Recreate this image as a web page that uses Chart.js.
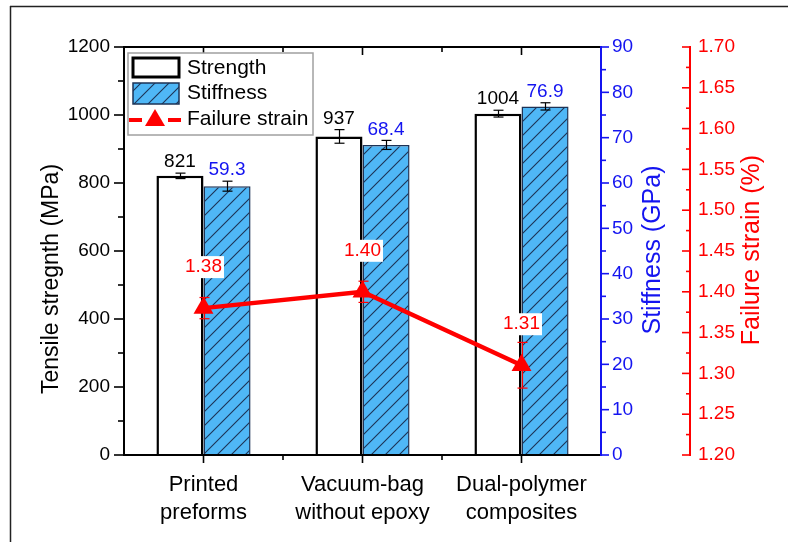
<!DOCTYPE html>
<html>
<head>
<meta charset="utf-8">
<script src="https://cdn.jsdelivr.net/npm/chart.js@4/dist/chart.umd.min.js"></script>
<style>
  html, body { margin: 0; padding: 0; background: #fff; }
  canvas { display: block; }
</style>
</head>
<body>
<canvas id="chart" width="788" height="542"></canvas>
<script>
// ---- data ----
const categories = [['Printed', 'preforms'], ['Vacuum-bag', 'without epoxy'], ['Dual-polymer', 'composites']];
const strength = [821, 937, 1004];            // MPa
const strengthErr = [8, 20, 10];
const stiffness = [59.3, 68.4, 76.9];         // GPa
const stiffnessErr = [1.1, 1.0, 0.8];
const failureStrain = [1.38, 1.40, 1.31];     // %
const failureStrainErr = [0.013, 0.013, 0.028];
const strengthTicks = [0, 200, 400, 600, 800, 1000, 1200];
const stiffnessTicks = [0, 10, 20, 30, 40, 50, 60, 70, 80, 90];
const strainTicks = [1.20, 1.25, 1.30, 1.35, 1.40, 1.45, 1.50, 1.55, 1.60, 1.65, 1.70];

// ---- styles ----
const FONT = "'Liberation Sans', Arial, sans-serif";
const BLUE = '#1414f0';
const RED = '#ff0000';
const HATCH_FILL = '#4fb7f6';
const HATCH_LINE = '#1d3356';

function hatchPattern(ctx) {
  const s = 14;
  const c = document.createElement('canvas');
  c.width = c.height = s;
  const g = c.getContext('2d');
  g.fillStyle = HATCH_FILL;
  g.fillRect(0, 0, s, s);
  g.strokeStyle = HATCH_LINE;
  g.lineWidth = 1.1;
  g.beginPath();
  g.moveTo(-2, s + 2); g.lineTo(s + 2, -2);
  g.moveTo(-2, 2); g.lineTo(2, -2);
  g.moveTo(s - 2, s + 2); g.lineTo(s + 2, s - 2);
  g.stroke();
  return ctx.createPattern(c, 'repeat');
}

const canvas = document.getElementById('chart');
const ctx0 = canvas.getContext('2d');
const hatch = hatchPattern(ctx0);

function seg(ctx, x1, y1, x2, y2) {
  ctx.beginPath(); ctx.moveTo(x1, y1); ctx.lineTo(x2, y2); ctx.stroke();
}

// error bars: under the markers for the line, on top for the bars
function drawErrors(chart, index) {
  const ds = chart.data.datasets[index];
  if (!ds.errors) return;
  const meta = chart.getDatasetMeta(index);
  const sc = chart.scales[meta.yAxisID];
  const ctx = chart.ctx;
  ctx.save();
  ctx.strokeStyle = ds.errorColor;
  ctx.lineWidth = 1.2;
  meta.data.forEach((el, i) => {
    const v = ds.data[i], e = ds.errors[i];
    const yt = sc.getPixelForValue(v + e), yb = sc.getPixelForValue(v - e);
    const x = Math.round(el.x) + 0.5, hw = 5;
    seg(ctx, x, yt, x, yb);
    seg(ctx, x - hw, yt, x + hw, yt);
    seg(ctx, x - hw, yb, x + hw, yb);
  });
  ctx.restore();
}

const errorBars = {
  id: 'errorBars',
  beforeDatasetDraw(chart, args) {
    if (chart.data.datasets[args.index].type === 'line') drawErrors(chart, args.index);
  },
  afterDatasetDraw(chart, args) {
    if (chart.data.datasets[args.index].type !== 'line') drawErrors(chart, args.index);
  }
};

function vAxis(ctx, scale, x, dir, color, major, minor) {
  ctx.strokeStyle = color;
  ctx.lineWidth = 2;
  seg(ctx, x, scale.top - 1, x, scale.bottom + 1);
  ctx.lineWidth = 1.6;
  const vals = scale.ticks.map(t => t.value);
  vals.forEach(v => {
    const y = scale.getPixelForValue(v);
    seg(ctx, x, y, x + dir * major, y);
  });
  for (let i = 0; i < vals.length - 1; i++) {
    const y = scale.getPixelForValue((vals[i] + vals[i + 1]) / 2);
    seg(ctx, x, y, x + dir * minor, y);
  }
}

function hAxis(ctx, xs, y, left, right, dir) {
  ctx.strokeStyle = '#000';
  ctx.lineWidth = 2;
  seg(ctx, left - 1, y, right + 1, y);
  ctx.lineWidth = 1.6;
  const px = categories.map((c, i) => xs.getPixelForValue(i));
  px.forEach(p => seg(ctx, p, y, p, y + dir * 8));
  for (let i = 0; i < px.length - 1; i++) {
    const p = (px[i] + px[i + 1]) / 2;
    seg(ctx, p, y, p, y + dir * 5);
  }
}

function vTitle(ctx, text, x, y, size, color) {
  ctx.save();
  ctx.translate(x, y);
  ctx.rotate(-Math.PI / 2);
  ctx.font = size + 'px ' + FONT;
  ctx.fillStyle = color;
  ctx.textAlign = 'center';
  ctx.textBaseline = 'middle';
  ctx.fillText(text, 0, 0);
  ctx.restore();
}

const decorations = {
  id: 'decorations',
  afterDraw(chart) {
    const ctx = chart.ctx;
    const { x, y, y1, y2 } = chart.scales;
    const a = chart.chartArea;

    // outer frame
    ctx.save();
    ctx.strokeStyle = '#222';
    ctx.lineWidth = 1.5;
    seg(ctx, 10.5, 6, 10.5, 542);
    seg(ctx, 10, 6.5, 788, 6.5);

    // axes
    hAxis(ctx, x, a.bottom, a.left, a.right, 1);
    hAxis(ctx, x, a.top, a.left, a.right, 1);
    vAxis(ctx, y, a.left, -1, '#000', 10, 6);
    vAxis(ctx, y1, y1.left, 1, BLUE, 8, 5);
    vAxis(ctx, y2, y2.left, -1, RED, 8, 4);

    // axis titles
    vTitle(ctx, 'Tensile stregnth (MPa)', 52, 279, 23, '#000');
    vTitle(ctx, 'Stiffness (GPa)', 653, 250, 25, BLUE);
    vTitle(ctx, 'Failure strain (%)', 752, 250, 25, RED);

    // value labels
    ctx.font = '19px ' + FONT;
    ctx.textAlign = 'center';
    ctx.textBaseline = 'middle';
    chart.data.datasets.forEach((ds, di) => {
      const meta = chart.getDatasetMeta(di);
      const sc = chart.scales[meta.yAxisID];
      meta.data.forEach((el, i) => {
        const txt = ds.labels[i];
        if (ds.type === 'line') {
          const ty = el.y - 41;
          const w = ctx.measureText(txt).width + 4;
          ctx.fillStyle = '#fff';
          ctx.fillRect(el.x - w / 2, ty - 11, w, 22);
          ctx.fillStyle = ds.labelColor;
          ctx.fillText(txt, el.x, ty);
        } else {
          const top = sc.getPixelForValue(ds.data[i] + ds.errors[i]);
          ctx.fillStyle = ds.labelColor;
          ctx.fillText(txt, el.x, top - 11);
        }
      });
    });

    // legend
    const L = { x: 128, y: 53, w: 185, h: 82 };
    ctx.fillStyle = '#fff';
    ctx.fillRect(L.x, L.y, L.w, L.h);
    ctx.strokeStyle = '#a0a0a0';
    ctx.lineWidth = 1.5;
    ctx.strokeRect(L.x, L.y, L.w, L.h);

    const sx = 133, sw = 46;
    ctx.fillStyle = '#fff';
    ctx.fillRect(sx, 58, sw, 19);
    ctx.strokeStyle = '#000';
    ctx.lineWidth = 3;
    ctx.strokeRect(sx, 58, sw, 19);

    ctx.fillStyle = hatch;
    ctx.fillRect(sx, 83, sw, 21);
    ctx.strokeStyle = HATCH_LINE;
    ctx.lineWidth = 1.5;
    ctx.strokeRect(sx, 83, sw, 21);

    ctx.strokeStyle = RED;
    ctx.lineWidth = 4;
    seg(ctx, 129, 120, 142, 120);
    seg(ctx, 168, 120, 181, 120);
    ctx.fillStyle = RED;
    ctx.beginPath();
    ctx.moveTo(155, 109);
    ctx.lineTo(165, 126);
    ctx.lineTo(145, 126);
    ctx.closePath();
    ctx.fill();

    ctx.fillStyle = '#000';
    ctx.font = '21px ' + FONT;
    ctx.textAlign = 'left';
    ctx.fillText('Strength', 187, 68);
    ctx.fillText('Stiffness', 187, 93);
    ctx.fillText('Failure strain', 187, 119);
    ctx.restore();
  }
};

const tickFont = { family: FONT, size: 19 };
const noGrid = { display: false, drawTicks: false };

new Chart(canvas, {
  type: 'bar',
  data: {
    labels: categories,
    datasets: [
      {
        type: 'line', label: 'Failure strain', data: failureStrain, yAxisID: 'y2',
        borderColor: RED, backgroundColor: RED, borderWidth: 4.5,
        pointStyle: 'triangle', pointRadius: 11.5, pointHoverRadius: 11.5, pointBorderWidth: 0,
        tension: 0, order: 0,
        errors: failureStrainErr, errorColor: RED, labelColor: RED,
        labels: failureStrain.map(v => v.toFixed(2))
      },
      {
        type: 'bar', label: 'Strength', data: strength, yAxisID: 'y',
        backgroundColor: '#fff', borderColor: '#000', borderWidth: 2.5, order: 1,
        categoryPercentage: 0.592, barPercentage: 1,
        errors: strengthErr, errorColor: '#000', labelColor: '#000',
        labels: strength.map(String)
      },
      {
        type: 'bar', label: 'Stiffness', data: stiffness, yAxisID: 'y1',
        backgroundColor: hatch, borderColor: HATCH_LINE, borderWidth: 1.5, order: 2,
        categoryPercentage: 0.592, barPercentage: 1,
        errors: stiffnessErr, errorColor: '#000', labelColor: BLUE,
        labels: stiffness.map(v => v.toFixed(1))
      }
    ]
  },
  options: {
    responsive: false,
    animation: false,
    events: [],
    layout: { padding: { top: 47, left: 0, right: 0, bottom: 0 } },
    plugins: { legend: { display: false }, tooltip: { enabled: false } },
    scales: {
      x: {
        type: 'category', offset: true,
        grid: noGrid, border: { display: false },
        ticks: { color: '#000', font: { family: FONT, size: 22, lineHeight: 1.27 }, padding: 16, maxRotation: 0, autoSkip: false },
        afterFit(s) { s.height = 87; }
      },
      y: {
        position: 'left',
        min: strengthTicks[0], max: strengthTicks[strengthTicks.length - 1],
        grid: noGrid, border: { display: false },
        ticks: {
          stepSize: strengthTicks[1] - strengthTicks[0], color: '#000', font: tickFont, padding: 14,
          callback: v => String(Math.round(v))
        },
        afterFit(s) { s.width = 124; }
      },
      y1: {
        position: 'right',
        min: stiffnessTicks[0], max: stiffnessTicks[stiffnessTicks.length - 1],
        grid: noGrid, border: { display: false },
        ticks: {
          stepSize: stiffnessTicks[1] - stiffnessTicks[0], color: BLUE, font: tickFont, padding: 11,
          callback: v => String(Math.round(v))
        },
        afterFit(s) { s.width = 89; }
      },
      y2: {
        position: 'right',
        min: strainTicks[0], max: strainTicks[strainTicks.length - 1],
        grid: noGrid, border: { display: false },
        ticks: {
          stepSize: 0.05, color: RED, font: tickFont, padding: 8, autoSkip: false,
          callback: v => v.toFixed(2)
        },
        afterFit(s) { s.width = 98; }
      }
    }
  },
  plugins: [errorBars, decorations]
});
</script>
</body>
</html>
